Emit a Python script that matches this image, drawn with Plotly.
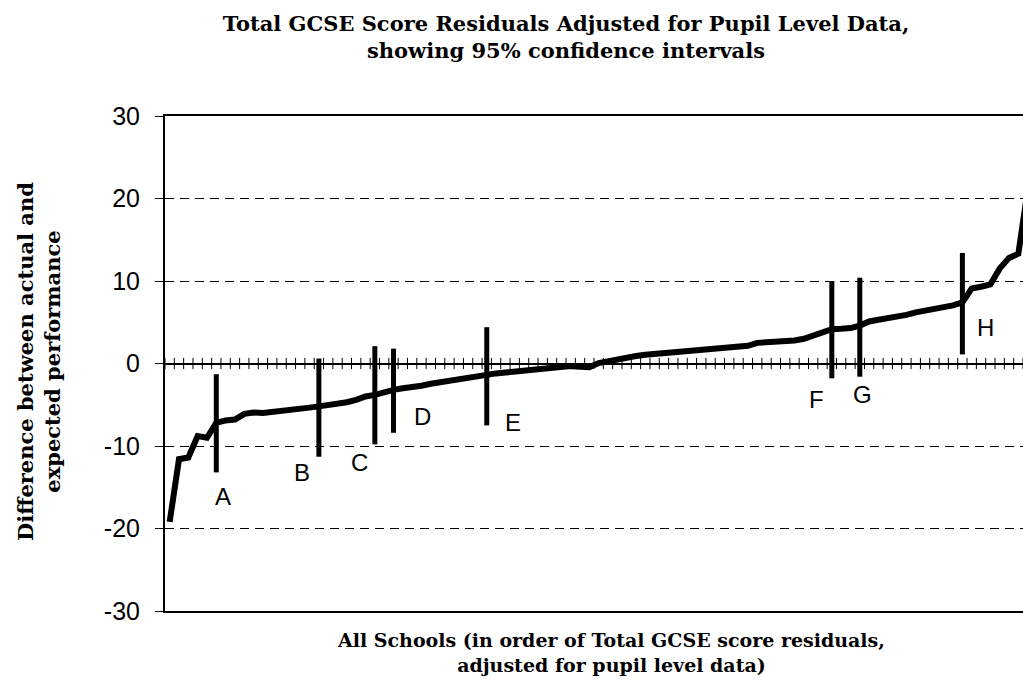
import plotly.graph_objects as go

# ---- data ----
residuals = [
    -19.2, -11.6, -11.4, -8.8, -9.0, -7.2, -6.9, -6.8, -6.1, -5.95,
    -6.0, -5.9, -5.8, -5.65, -5.5, -5.35, -5.2, -5.05, -4.85, -4.7,
    -4.4, -4.0, -3.8, -3.45, -3.2, -3.0, -2.9, -2.7, -2.45, -2.25,
    -2.1, -1.9, -1.7, -1.5, -1.3, -1.2, -1.1, -1.0, -0.9, -0.8,
    -0.65, -0.5, -0.4, -0.3, -0.4, -0.45, 0.05, 0.3, 0.5, 0.75,
    0.9, 1.05, 1.15, 1.25, 1.35, 1.45, 1.6, 1.8, 1.9, 1.95,
    2.0, 2.05, 2.15, 2.5, 2.55, 2.65, 2.7, 2.8, 3.0, 3.4,
    3.9, 4.15, 4.2, 4.3, 4.6, 5.1, 5.3, 5.45, 5.65, 5.9,
    6.2, 6.4, 6.6, 6.85, 7.05, 7.4, 9.1, 9.3, 9.6, 11.5,
    12.8, 13.3, 21.0,
]
n_axis_schools = 92

ci_labels = ["A", "B", "C", "D", "E", "F", "G", "H"]
ci_school = [6, 17, 23, 25, 35, 72, 75, 86]
ci_lower = [-13.2, -11.3, -9.8, -8.4, -7.5, -1.8, -1.6, 1.1]
ci_upper = [-1.3, 0.6, 2.1, 1.8, 4.4, 10.0, 10.4, 13.4]

y_ticks = [-30, -20, -10, 0, 10, 20, 30]
y_tick_text = [str(v) for v in y_ticks]  # plain hyphen-minus as in the original

title_text = "Total GCSE Score Residuals Adjusted for Pupil Level Data,<br>showing 95% confidence intervals"
x_title = "All Schools (in order of Total GCSE score residuals,<br>adjusted for pupil level data)"
y_title = "Difference between actual and<br>expected performance"

# ---- figure ----
W, H = 1023, 683
ML, MR, MT, MB = 165, 0, 116, 72
PW, PH = W - ML - MR, H - MT - MB

school_x = [i + 0.5 for i in range(len(residuals))]

fig = go.Figure()

# zero line category ticks
fig.add_trace(go.Scatter(
    x=list(range(n_axis_schools + 1)), y=[0] * (n_axis_schools + 1),
    mode="markers", hoverinfo="skip",
    marker=dict(symbol="line-ns", size=8, line=dict(color="black", width=1)),
    cliponaxis=True,
))

# residual curve
fig.add_trace(go.Scatter(
    x=school_x, y=residuals, mode="lines",
    line=dict(color="black", width=6), hoverinfo="skip",
))

# confidence intervals
cx, cy = [], []
for s, lo, hi in zip(ci_school, ci_lower, ci_upper):
    cx += [s - 0.5, s - 0.5, None]
    cy += [lo, hi, None]
fig.add_trace(go.Scatter(
    x=cx, y=cy, mode="lines", line=dict(color="black", width=5),
    hoverinfo="skip",
))

# CI letter labels (pixel offsets from the bottom of each bar)
label_shift = {
    "A": (7, -24), "B": (-17, -16), "C": (-15, -18), "D": (29, 16),
    "E": (26, 3), "F": (-15, -21), "G": (3, -18), "H": (23, 27),
}
for lab, s, lo in zip(ci_labels, ci_school, ci_lower):
    dx, dy = label_shift[lab]
    fig.add_annotation(
        x=s - 0.5, y=lo, xref="x", yref="y", text=lab, showarrow=False,
        xshift=dx, yshift=dy, xanchor="center", yanchor="middle",
        font=dict(family="Liberation Sans, Arial", size=24, color="black"),
    )

# axis titles
fig.add_annotation(
    x=(611 - ML) / PW, y=(H - MB - 652) / PH, xref="paper", yref="paper",
    text=x_title, showarrow=False, xanchor="center", yanchor="middle",
    font=dict(family="DejaVu Serif", size=19, color="black", weight="bold"),
)
fig.add_annotation(
    x=(39 - ML) / PW, y=(H - MB - 362) / PH, xref="paper", yref="paper",
    text=y_title, showarrow=False, textangle=-90,
    xanchor="center", yanchor="middle",
    font=dict(family="DejaVu Serif", size=21, color="black", weight="bold"),
)

fig.update_layout(
    width=W, height=H,
    margin=dict(l=ML, r=MR, t=MT, b=MB, pad=0),
    paper_bgcolor="white", plot_bgcolor="white",
    showlegend=False,
    title=dict(
        text=title_text, x=566 / W, xanchor="center",
        y=(H - 31) / H, yanchor="middle", xref="container", yref="container",
        font=dict(family="DejaVu Serif", size=21, color="black", weight="bold"),
    ),
    xaxis=dict(
        range=[0, n_axis_schools], showticklabels=False, ticks="",
        showgrid=False, zeroline=False,
        showline=True, mirror=True, linecolor="black", linewidth=2,
    ),
    yaxis=dict(
        range=[-30, 30], tickvals=y_ticks, ticktext=y_tick_text,
        ticks="outside", ticklen=8, tickwidth=1, tickcolor="black",
        tickfont=dict(family="Liberation Sans, Arial", size=25, color="black"),
        ticklabelstandoff=10,
        showline=True, linecolor="black", linewidth=2,
        showgrid=True, gridcolor="black", gridwidth=1, griddash="9px,6px",
        zeroline=True, zerolinecolor="black", zerolinewidth=2,
    ),
)

fig.write_html(
    "out.html",
    config={"displayModeBar": False, "staticPlot": True},
    post_script="document.body.style.margin='0';document.body.style.overflow='hidden';",
)
